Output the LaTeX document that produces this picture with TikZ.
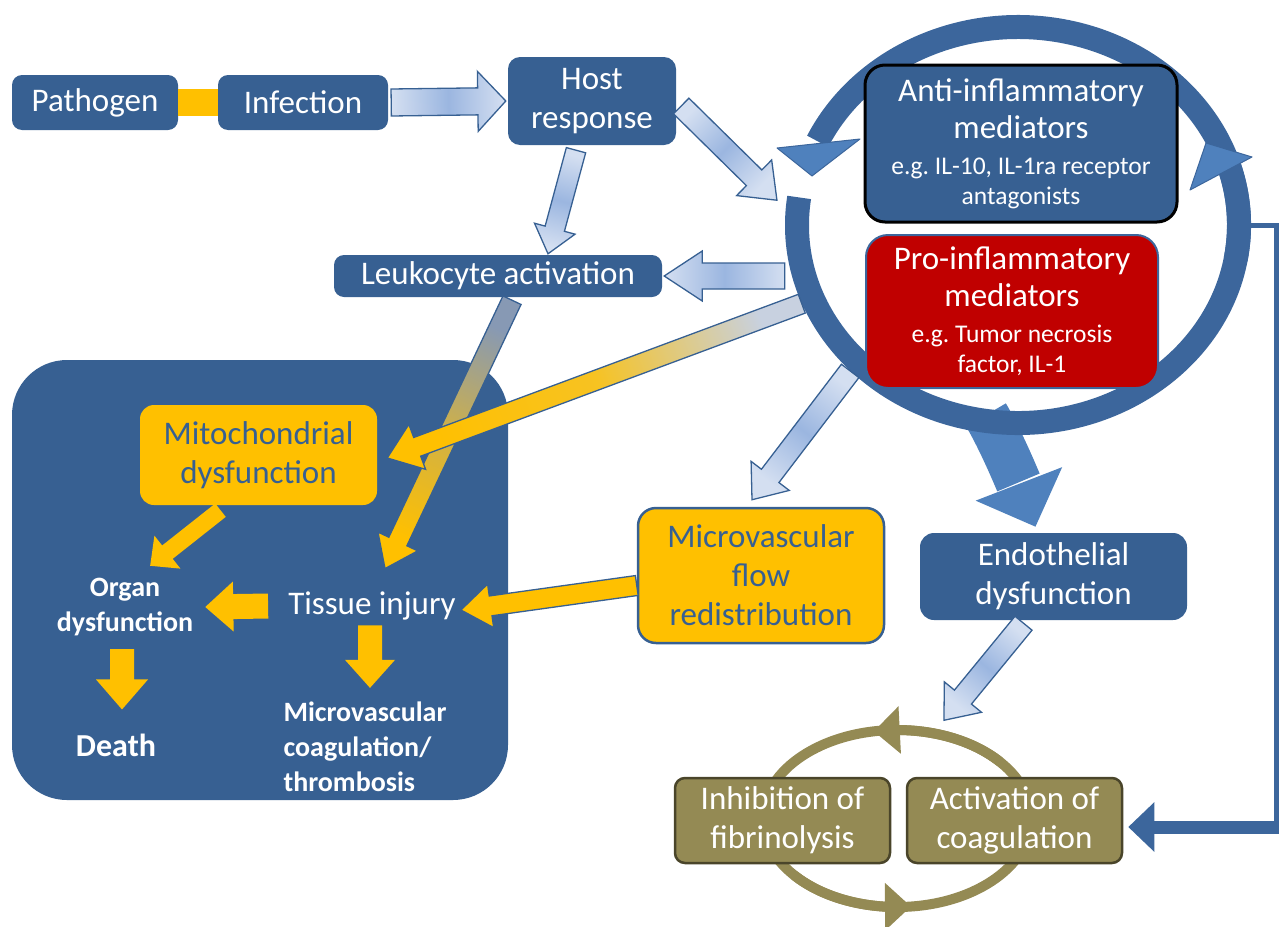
\documentclass[tikz,border=0pt]{standalone}
\usepackage{fontspec}
\setmainfont{Carlito}
\usetikzlibrary{positioning,calc,shapes.geometric,arrows.meta,bending,backgrounds}

\definecolor{boxblue}{RGB}{55,96,146}
\definecolor{ringdark}{RGB}{60,102,156}
\definecolor{ringlight}{RGB}{79,129,189}
\definecolor{myyellow}{RGB}{255,192,0}
\definecolor{prored}{RGB}{192,0,0}
\definecolor{olive}{RGB}{148,138,84}
\definecolor{darkolive}{RGB}{74,69,42}
\definecolor{lbl}{RGB}{212,223,241}
\definecolor{mbl}{RGB}{155,182,224}
\definecolor{gbl}{RGB}{200,209,224}
\definecolor{sbl}{RGB}{135,153,180}

\newcommand{\fntbig}{\fontsize{33}{39}\selectfont}
\newcommand{\fntsmall}{\fontsize{25.5}{39}\selectfont}
\newcommand{\fntbold}{\bfseries\fontsize{28}{35}\selectfont}
\newcommand{\fntdeath}{\bfseries\fontsize{32}{38}\selectfont}

\newcommand{\blockarrow}[6][]{%
  \path[#1] let \p1=#2, \p2=#3, \n1={atan2(\y2-\y1,\x2-\x1)}, \n2={veclen(\x2-\x1,\y2-\y1)}, \n3={\n2-#6}, \n4={\n1+90} in
    [shading angle=\n4]
    ([shift={(\p1)},rotate=\n1]0pt,#4pt) -- ([shift={(\p1)},rotate=\n1]\n3,#4pt)
    -- ([shift={(\p1)},rotate=\n1]\n3,#5pt) -- ([shift={(\p1)},rotate=\n1]\n2,0pt)
    -- ([shift={(\p1)},rotate=\n1]\n3,-#5pt) -- ([shift={(\p1)},rotate=\n1]\n3,-#4pt)
    -- ([shift={(\p1)},rotate=\n1]0pt,-#4pt) -- cycle;
}

\tikzset{
  box/.style={rounded corners=10pt, align=center, inner sep=0pt, font=\fntbig},
  bluebox/.style={box, fill=boxblue, text=white},
  yellowbox/.style={box, fill=myyellow, text=boxblue},
  olivebox/.style={box, fill=olive, draw=darkolive, line width=2.5pt, text=white, minimum width=215pt, minimum height=85pt},
  wtext/.style={text=white, align=center, font=\fntbig, inner sep=2pt},
  btext/.style={text=white, align=center, font=\fntbold, inner sep=2pt},
  lbarrow/.style={draw=boxblue, line width=1.3pt, left color=lbl, right color=lbl, middle color=mbl},
  ybarrow/.style={draw=boxblue, line width=1.3pt, left color=gbl, right color=myyellow, middle color=myyellow!85!gbl},
  sbarrow/.style={draw=boxblue, line width=1.3pt, left color=sbl, right color=myyellow, middle color=myyellow!60!sbl},
  ymarrow/.style={draw=boxblue, line width=1.3pt, left color=myyellow, right color=myyellow},
  yarrow/.style={left color=myyellow, right color=myyellow},
  ringarc/.style={draw=ringdark, line width=24pt},
  ringhead/.style={fill=ringlight, draw=ringdark, line width=1pt, line join=round},
  coagline/.style={draw=olive, line width=10pt},
}

\begin{document}
\begin{tikzpicture}[x=1pt,y=-1pt]
\useasboundingbox (0,0) rectangle (1281,926);

\node[fill=boxblue, rounded corners=55pt, minimum width=496pt, minimum height=440pt] (panel) at (260,580) {};
\node[ellipse, minimum width=466pt, minimum height=420pt, inner sep=0pt] (ring) at (1018,225) {};
\node[ellipse, minimum width=278pt, minimum height=187pt, inner sep=0pt] (coag) at (897,818.5) {};

\node[bluebox, minimum width=166pt, minimum height=55pt] (pathogen) at (95,102.5) {Pathogen};
\node[bluebox, minimum width=170pt, minimum height=55pt] (infection) at (303,102.5) {Infection};
\node[bluebox, rounded corners=12pt, minimum width=168pt, minimum height=88pt] (host) at (592,101) {Host\\response};
\node[bluebox, minimum width=328pt, minimum height=42pt] (leuko) at (498,276) {Leukocyte activation};
\node[bluebox, draw=black, line width=3pt, rounded corners=20pt, minimum width=312pt, minimum height=157pt] (anti) at (1021,143.5) {Anti-inflammatory\\[-2pt]mediators\\[-3pt]\fntsmall e.g.\ IL-10, IL-1ra receptor\\[-9pt]\fntsmall antagonists};
\node[bluebox, fill=prored, draw=ringdark, line width=2pt, rounded corners=22pt, minimum width=292pt, minimum height=153pt] (pro) at (1012,311.5) {Pro-inflammatory\\[-2pt]mediators\\[-3pt]\fntsmall e.g.\ Tumor necrosis\\[-9pt]\fntsmall factor, IL-1};
\node[yellowbox, rounded corners=14pt, minimum width=237pt, minimum height=100pt] (mito) at (258.5,455) {Mitochondrial\\dysfunction};
\node[btext] (organ) at (125,607) {Organ\\dysfunction};
\node[wtext] (tissue) at (372,606) {Tissue injury};
\node[btext, font=\fntdeath] (death) at (116,745) {Death};
\node[btext, align=left] (mvcoag) at (365,747) {Microvascular\\coagulation/\\thrombosis};
\node[yellowbox, draw=boxblue, line width=2.5pt, rounded corners=18pt, minimum width=246pt, minimum height=135pt] (microflow) at (761,575.5) {Microvascular\\flow\\redistribution};
\node[bluebox, rounded corners=14pt, minimum width=267pt, minimum height=87pt] (endo) at (1053.5,576.5) {Endothelial\\dysfunction};
\node[olivebox] (inhib) at (782.5,820.5) {Inhibition of\\fibrinolysis};
\node[olivebox] (activ) at (1014.5,820.5) {Activation of\\coagulation};

\begin{scope}[on background layer]
\draw[line width=46pt, ringlight, -{Triangle[length=46pt,width=90pt]}] ($(ring.center)+(-32,190)$) .. controls +(15,25) and +(-12,-35) .. ($(endo.north)+(-18,-6)$);
\draw[ringarc] ($(ring.center)+(10:221 and 198)$) arc[start angle=10, end angle=-155, x radius=221, y radius=198];
\draw[ringarc] ($(ring.center)+(-172:221 and 198)$) arc[start angle=-172, end angle=-379, x radius=221, y radius=198];
\fill[ringhead] (777,148) -- (860,139) -- (812,176) -- cycle;
\fill[ringhead] (1252,157) -- (1190,190) -- (1206,143) -- cycle;
\draw[coagline] (coag.center) ellipse [x radius=134, y radius=88.5];
\draw[coagline, -{Triangle[length=26pt,width=46pt]}] ($(coag.center)+(-40:134 and 88.5)$) arc[start angle=-40, end angle=-100, x radius=134, y radius=88.5];
\draw[coagline, -{Triangle[length=26pt,width=46pt]}] ($(coag.center)+(-220:134 and 88.5)$) arc[start angle=-220, end angle=-276, x radius=134, y radius=88.5];
\end{scope}

\draw[line width=27pt, myyellow] (pathogen.east) -- (infection.west);
\blockarrow[lbarrow]{($(infection.east)+(3,0)$)}{($(host.west)+(-2,0)$)}{13.5}{30}{28}
\blockarrow[lbarrow]{($(host.east)+(5,5)$)}{($(ring.174)+(-9,0)$)}{11}{25}{32}
\blockarrow[lbarrow]{($(host.south)+(-16,5)$)}{($(leuko.north)+(50,-1)$)}{10}{21}{26}
\blockarrow[lbarrow]{(leuko.east -| ring.west)}{($(leuko.east)+(2,0)$)}{13}{25}{38}
\blockarrow[sbarrow]{($(leuko.south)+(14,3)$)}{($(tissue.north)+(13,-21)$)}{10}{22}{30}
\blockarrow[ybarrow]{(ring.200)}{($(mito.east)+(10,3)$)}{10}{24}{32}
\blockarrow[lbarrow]{(ring.221)}{($(microflow.north)+(-9,-7)$)}{11}{24}{30}
\blockarrow[ymarrow]{($(microflow.west)+(0,10)$)}{($(tissue.east)+(3,4)$)}{10}{22}{30}
\blockarrow[lbarrow]{($(endo.south)+(-30,3)$)}{($(coag.62)+(0,-10)$)}{11}{24}{30}
\blockarrow[yarrow]{($(mito.south)+(-38,5)$)}{($(organ.north)+(25,-10)$)}{8.5}{21}{22}
\blockarrow[yarrow]{($(tissue.west)+(-18,0)$)}{($(organ.east)+(10,0)$)}{12.5}{25}{28}
\blockarrow[yarrow]{($(organ.south)+(-3,11)$)}{($(death.north)+(6,-22)$)}{12}{26}{30}
\blockarrow[yarrow]{($(tissue.south)+(-2,3)$)}{($(mvcoag.north)+(5,-12)$)}{12}{25}{28}

\coordinate (elbow) at (1276,827);
\draw[line width=5pt, ringdark] (ring.east) -| (elbow);
\draw[line width=13pt, ringdark, -{Triangle[length=26pt,width=48pt]}] ($(elbow)+(2.5,0)$) -- ($(activ.east |- elbow)+(5,0)$);

\end{tikzpicture}
\end{document}
